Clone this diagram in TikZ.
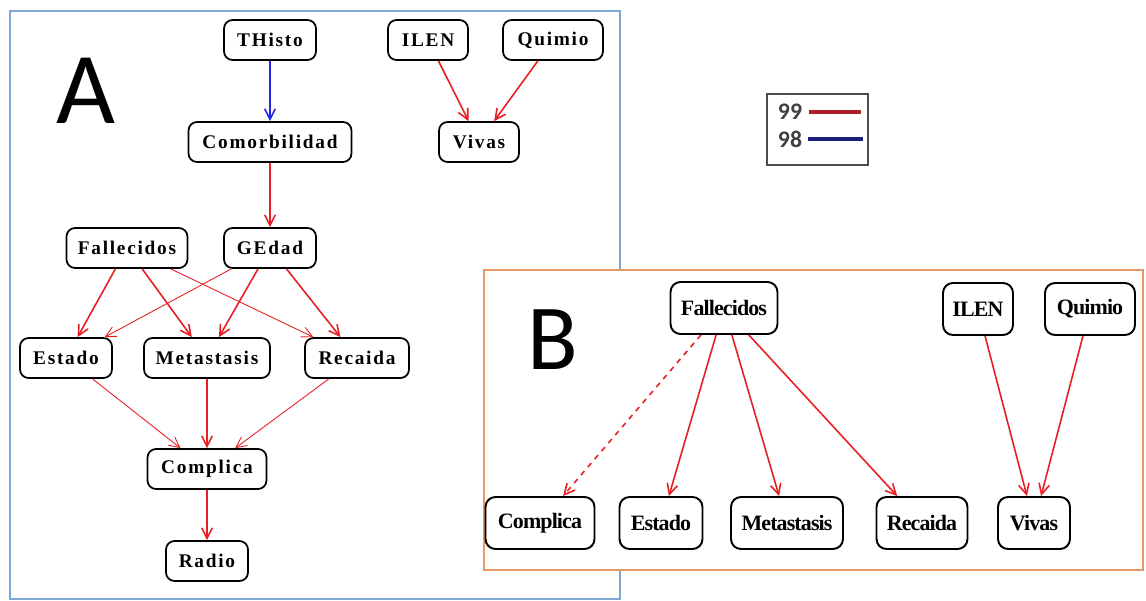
\documentclass[tikz,border=0pt]{standalone}
\usepackage{fontspec}
\setmainfont{Liberation Serif}
\newfontfamily\spacedfont[LetterSpace=9]{Liberation Serif}
\newfontfamily\tightfont[LetterSpace=-4]{Liberation Serif}
\newfontfamily\panelfont{Carlito}
\usetikzlibrary{arrows.meta, positioning}

\definecolor{edgered}{RGB}{232,30,36}
\definecolor{edgeblue}{RGB}{30,40,230}
\definecolor{legred}{RGB}{175,30,40}
\definecolor{legblue}{RGB}{25,30,125}
\definecolor{frameA}{RGB}{125,168,212}
\definecolor{frameB}{RGB}{232,152,100}

\tikzset{
    anode/.style={draw=black, line width=1pt, rounded corners=0.17cm, fill=white,
        minimum height=0.8cm, inner sep=0pt, font=\spacedfont\fontsize{11}{12}\selectfont\bfseries},
    bnode/.style={draw=black, line width=1.1pt, rounded corners=0.2cm, fill=white,
        minimum height=1.04cm, inner sep=0pt, font=\tightfont\fontsize{12.5}{14}\selectfont\bfseries},
    redarr/.style={edgered, line width=0.9pt, -{Straight Barb[length=6pt,width=6pt]}},
    thinarr/.style={edgered, line width=0.5pt, -{Straight Barb[length=6pt,width=6pt]}},
    bluearr/.style={edgeblue, line width=0.9pt, -{Straight Barb[length=6pt,width=6pt]}}
}

\begin{document}
\begin{tikzpicture}[x=0.02cm, y=-0.02cm]
    \useasboundingbox (0,0) rectangle (1146,601);
    % panels
    \draw[frameA, line width=1pt] (10,11) rectangle (620,599);
    \draw[frameB, line width=1pt, fill=white] (484,270) rectangle (1143,570);
    \node[font=\panelfont\fontsize{58}{60}\selectfont] (labA) at (86,91) {A};
    \node[font=\panelfont\fontsize{53}{55}\selectfont] (labB) at (553,340) {B};

    % panel A
    \node[anode, minimum width=1.84cm] (histo) at (270,40) {THisto};
    \node[anode, minimum width=1.6cm] (ilen) at (428,40) {ILEN};
    \node[anode, minimum width=2cm] (quimio) at (553,40) {Quimio};
    \node[anode, minimum width=3.26cm] (comorb) at (270,142) {Comorbilidad};
    \node[anode, minimum width=1.6cm] (vivas) at (479,142) {Vivas};
    \node[anode, minimum width=2.42cm] (fallec) at (127,248) {Fallecidos};
    \node[anode, minimum width=1.84cm] (gedad) at (270,248) {GEdad};
    \node[anode, minimum width=1.84cm] (estado) at (66,358) {Estado};
    \node[anode, minimum width=2.52cm] (metast) at (207,358) {Metastasis};
    \node[anode, minimum width=2.08cm] (recaida) at (357,358) {Recaida};
    \node[anode, minimum width=2.38cm] (complica) at (207,469) {Complica};
    \node[anode, minimum width=1.64cm] (radio) at (207,561) {Radio};

    \draw[bluearr] (histo) -- (comorb);
    \draw[redarr] (comorb) -- (gedad);
    \draw[redarr] (ilen) -- (vivas);
    \draw[redarr] (quimio) -- (vivas);
    \draw[redarr] (fallec) -- (estado);
    \draw[redarr] (fallec) -- (metast);
    \draw[thinarr] (fallec) -- (recaida);
    \draw[thinarr] (gedad) -- (estado);
    \draw[redarr] (gedad) -- (metast);
    \draw[redarr] (gedad) -- (recaida);
    \draw[thinarr] (estado) -- (complica);
    \draw[redarr] (metast) -- (complica);
    \draw[thinarr] (recaida) -- (complica);
    \draw[redarr] (complica) -- (radio);

    % legend
    \draw[black!70, line width=0.8pt] (767,94) rectangle (868,165);
    \node[font=\panelfont\fontsize{13.5}{14}\selectfont\bfseries, text=black!75] (l99) at (790,112) {99};
    \node[font=\panelfont\fontsize{13.5}{14}\selectfont\bfseries, text=black!75] (l98) at (790,139) {98};
    \draw[legred, line width=2pt] (l99.east) ++(1,0) coordinate (r0) -- ++(52,0) coordinate (r1);
    \draw[legblue, line width=2pt] (l98.east) ++(0,0) coordinate (b0) -- ++(55,0) coordinate (b1);

    % panel B
    \node[bnode, minimum width=2.14cm] (bfallec) at (724,308) {Fallecidos};
    \node[bnode, minimum width=1.4cm] (bilen) at (978,309) {ILEN};
    \node[bnode, minimum width=1.8cm] (bquimio) at (1090,309) {Quimio};
    \node[bnode, minimum width=2.18cm] (bcompl) at (540,523) {Complica};
    \node[bnode, minimum width=1.66cm] (bestado) at (661,523) {Estado};
    \node[bnode, minimum width=2.24cm] (bmetast) at (787,523) {Metastasis};
    \node[bnode, minimum width=1.82cm] (brecaida) at (922,523) {Recaida};
    \node[bnode, minimum width=1.44cm] (bvivas) at (1034,523) {Vivas};

    \draw[redarr, dashed] (bfallec) -- (bcompl);
    \draw[redarr] (bfallec) -- (bestado);
    \draw[redarr] (bfallec) -- (bmetast);
    \draw[redarr] (bfallec) -- (brecaida);
    \draw[redarr] (bilen) -- (bvivas);
    \draw[redarr] (bquimio) -- (bvivas);
\end{tikzpicture}
\end{document}
